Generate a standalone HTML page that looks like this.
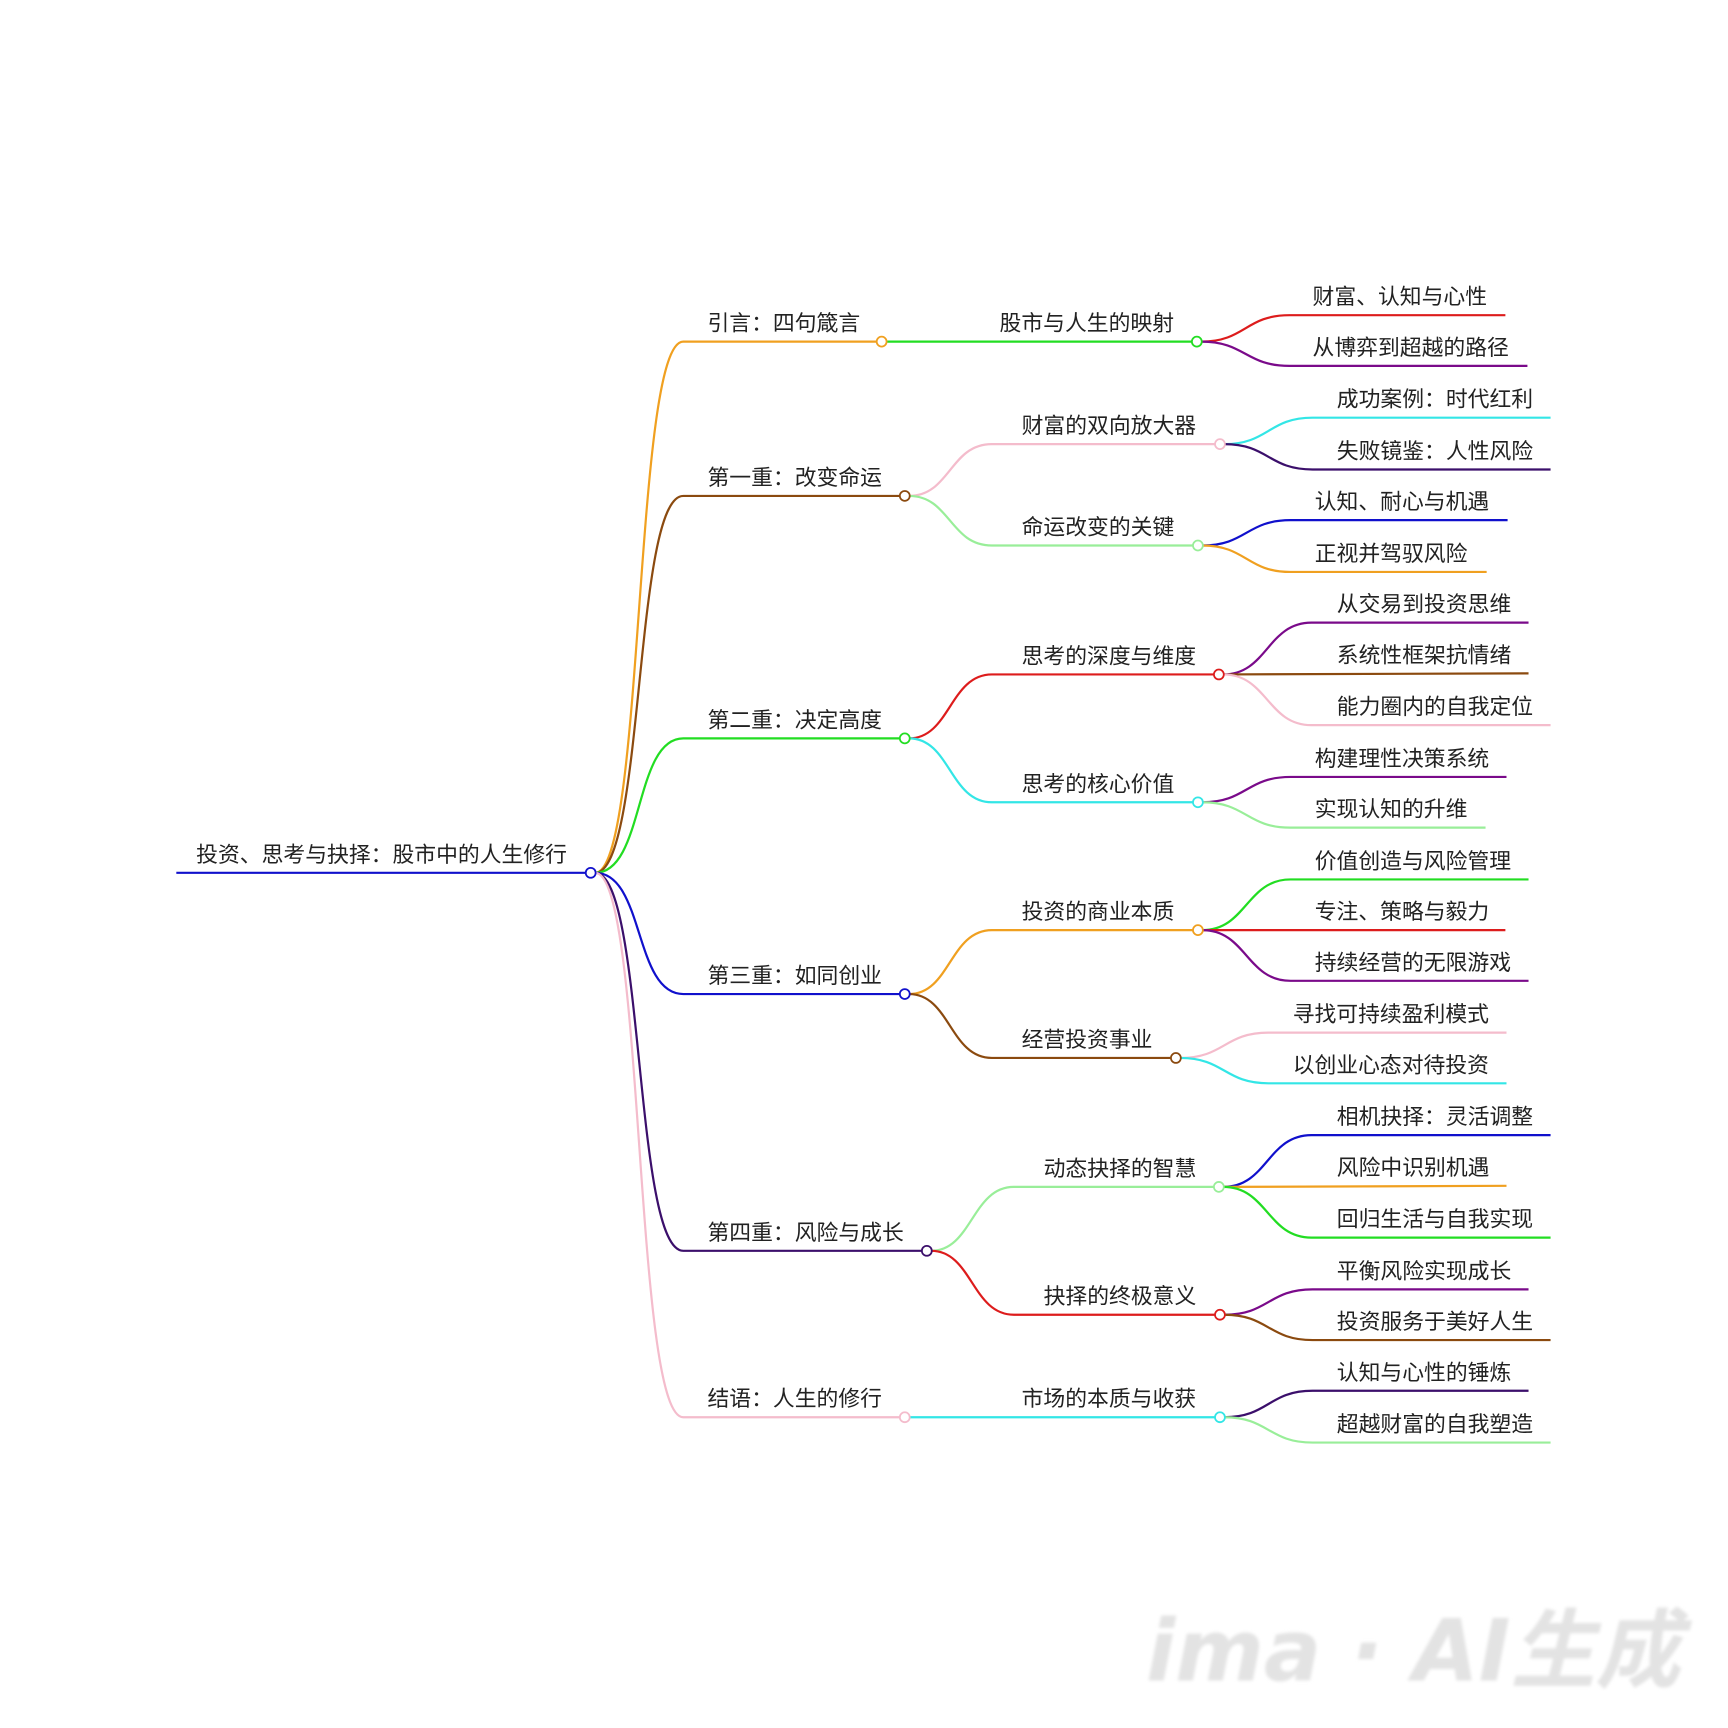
<!DOCTYPE html>
<html><head><meta charset="utf-8"><style>
html,body{margin:0;padding:0;background:#fff;}
svg{display:block;}
text{font-family:"Liberation Sans","Noto Sans CJK SC",sans-serif;font-size:19.8px;fill:#222;}
.wm{font-family:"DejaVu Sans","Noto Sans CJK SC",sans-serif;font-size:78px;font-weight:bold;font-style:italic;fill:#e3e3e3;}
path{fill:none;stroke-width:2;}
circle{fill:#fff;stroke-width:1.6;}
</style></head><body>
<svg width="1728" height="1728" viewBox="0 0 1568 1568" xmlns="http://www.w3.org/2000/svg">
<defs><filter id="b"><feGaussianBlur stdDeviation="1.5"/></filter></defs>
<text class="wm" x="1040" y="1525" textLength="485" lengthAdjust="spacingAndGlyphs" filter="url(#b)">ima · AI生成</text>

<path d="M160,792 L536,792" stroke="#1010cc"/>
<text x="178" y="782">投资、思考与抉择：股市中的人生修行</text>

<path d="M540,792 C585,792 575,310 620,310 L800,310" stroke="#f0a020"/>
<path d="M540,792 C585,792 575,450 620,450 L821,450" stroke="#8b4a0f"/>
<path d="M540,792 C585,792 575,670 620,670 L821,670" stroke="#22dd22"/>
<path d="M540,792 C585,792 575,902 620,902 L821,902" stroke="#1010cc"/>
<path d="M540,792 C585,792 575,1135 620,1135 L841,1135" stroke="#3b0f6b"/>
<path d="M540,792 C585,792 575,1286 620,1286 L821,1286" stroke="#f4bccc"/>
<text x="642" y="300">引言：四句箴言</text>
<text x="642" y="440">第一重：改变命运</text>
<text x="642" y="660">第二重：决定高度</text>
<text x="642" y="892">第三重：如同创业</text>
<text x="642" y="1125">第四重：风险与成长</text>
<text x="642" y="1276">结语：人生的修行</text>

<path d="M805,310 L1086,310" stroke="#22dd22"/>
<path d="M825,450 C862,450 862,403 900,403 L1107,403" stroke="#f4bccc"/>
<path d="M825,450 C862,450 862,495 900,495 L1087,495" stroke="#99ee99"/>
<path d="M825,670 C862,670 862,612 900,612 L1106,612" stroke="#dd1c1c"/>
<path d="M825,670 C862,670 862,728 900,728 L1087,728" stroke="#33e6e6"/>
<path d="M825,902 C862,902 862,844 900,844 L1087,844" stroke="#f0a020"/>
<path d="M825,902 C862,902 862,960 900,960 L1067,960" stroke="#8b4a0f"/>
<path d="M845,1135 C882,1135 882,1077 920,1077 L1106,1077" stroke="#99ee99"/>
<path d="M845,1135 C882,1135 882,1193 920,1193 L1107,1193" stroke="#dd1c1c"/>
<path d="M825,1286 L1107,1286" stroke="#33e6e6"/>
<text x="907" y="300">股市与人生的映射</text>
<text x="927" y="393">财富的双向放大器</text>
<text x="927" y="485">命运改变的关键</text>
<text x="927" y="602">思考的深度与维度</text>
<text x="927" y="718">思考的核心价值</text>
<text x="927" y="834">投资的商业本质</text>
<text x="927" y="950">经营投资事业</text>
<text x="947" y="1067">动态抉择的智慧</text>
<text x="947" y="1183">抉择的终极意义</text>
<text x="927" y="1276">市场的本质与收获</text>

<path d="M1090,310 C1130,310 1130,286 1170,286 L1366,286" stroke="#dd1c1c"/>
<path d="M1090,310 C1130,310 1130,332 1170,332 L1386,332" stroke="#7a0a8a"/>
<path d="M1111,403 C1151,403 1151,379 1191,379 L1407,379" stroke="#33e6e6"/>
<path d="M1111,403 C1151,403 1151,426 1191,426 L1407,426" stroke="#3b0f6b"/>
<path d="M1091,495 C1131,495 1131,472 1171,472 L1368,472" stroke="#1010cc"/>
<path d="M1091,495 C1131,495 1131,519 1171,519 L1349,519" stroke="#f0a020"/>
<path d="M1110,612 C1150,612 1150,565 1190,565 L1387,565" stroke="#7a0a8a"/>
<path d="M1110,612 L1387,611" stroke="#8b4a0f"/>
<path d="M1110,612 C1150,612 1150,658 1190,658 L1407,658" stroke="#f4bccc"/>
<path d="M1091,728 C1131,728 1131,705 1171,705 L1367,705" stroke="#7a0a8a"/>
<path d="M1091,728 C1131,728 1131,751 1171,751 L1348,751" stroke="#99ee99"/>
<path d="M1091,844 C1131,844 1131,798 1171,798 L1387,798" stroke="#22dd22"/>
<path d="M1091,844 L1366,844" stroke="#dd1c1c"/>
<path d="M1091,844 C1131,844 1131,890 1171,890 L1387,890" stroke="#7a0a8a"/>
<path d="M1071,960 C1111,960 1111,937 1151,937 L1367,937" stroke="#f4bccc"/>
<path d="M1071,960 C1111,960 1111,983 1151,983 L1367,983" stroke="#33e6e6"/>
<path d="M1110,1077 C1150,1077 1150,1030 1190,1030 L1407,1030" stroke="#1010cc"/>
<path d="M1110,1077 L1367,1076" stroke="#f0a020"/>
<path d="M1110,1077 C1150,1077 1150,1123 1190,1123 L1407,1123" stroke="#22dd22"/>
<path d="M1111,1193 C1151,1193 1151,1170 1191,1170 L1387,1170" stroke="#7a0a8a"/>
<path d="M1111,1193 C1151,1193 1151,1216 1191,1216 L1407,1216" stroke="#8b4a0f"/>
<path d="M1111,1286 C1151,1286 1151,1262 1191,1262 L1387,1262" stroke="#3b0f6b"/>
<path d="M1111,1286 C1151,1286 1151,1309 1191,1309 L1407,1309" stroke="#99ee99"/>
<text x="1191" y="276">财富、认知与心性</text>
<text x="1191" y="322">从博弈到超越的路径</text>
<text x="1213" y="369">成功案例：时代红利</text>
<text x="1213" y="416">失败镜鉴：人性风险</text>
<text x="1193" y="462">认知、耐心与机遇</text>
<text x="1193" y="509">正视并驾驭风险</text>
<text x="1213" y="555">从交易到投资思维</text>
<text x="1213" y="601">系统性框架抗情绪</text>
<text x="1213" y="648">能力圈内的自我定位</text>
<text x="1193" y="695">构建理性决策系统</text>
<text x="1193" y="741">实现认知的升维</text>
<text x="1193" y="788">价值创造与风险管理</text>
<text x="1193" y="834">专注、策略与毅力</text>
<text x="1193" y="880">持续经营的无限游戏</text>
<text x="1173" y="927">寻找可持续盈利模式</text>
<text x="1173" y="973">以创业心态对待投资</text>
<text x="1213" y="1020">相机抉择：灵活调整</text>
<text x="1213" y="1066">风险中识别机遇</text>
<text x="1213" y="1113">回归生活与自我实现</text>
<text x="1213" y="1160">平衡风险实现成长</text>
<text x="1213" y="1206">投资服务于美好人生</text>
<text x="1213" y="1252">认知与心性的锤炼</text>
<text x="1213" y="1299">超越财富的自我塑造</text>

<circle cx="536" cy="792" r="4.5" stroke="#1010cc"/>
<circle cx="800" cy="310" r="4.5" stroke="#f0a020"/>
<circle cx="821" cy="450" r="4.5" stroke="#8b4a0f"/>
<circle cx="821" cy="670" r="4.5" stroke="#22dd22"/>
<circle cx="821" cy="902" r="4.5" stroke="#1010cc"/>
<circle cx="841" cy="1135" r="4.5" stroke="#3b0f6b"/>
<circle cx="821" cy="1286" r="4.5" stroke="#f4bccc"/>
<circle cx="1086" cy="310" r="4.5" stroke="#22dd22"/>
<circle cx="1107" cy="403" r="4.5" stroke="#f4bccc"/>
<circle cx="1087" cy="495" r="4.5" stroke="#99ee99"/>
<circle cx="1106" cy="612" r="4.5" stroke="#dd1c1c"/>
<circle cx="1087" cy="728" r="4.5" stroke="#33e6e6"/>
<circle cx="1087" cy="844" r="4.5" stroke="#f0a020"/>
<circle cx="1067" cy="960" r="4.5" stroke="#8b4a0f"/>
<circle cx="1106" cy="1077" r="4.5" stroke="#99ee99"/>
<circle cx="1107" cy="1193" r="4.5" stroke="#dd1c1c"/>
<circle cx="1107" cy="1286" r="4.5" stroke="#33e6e6"/>
</svg>
</body></html>
